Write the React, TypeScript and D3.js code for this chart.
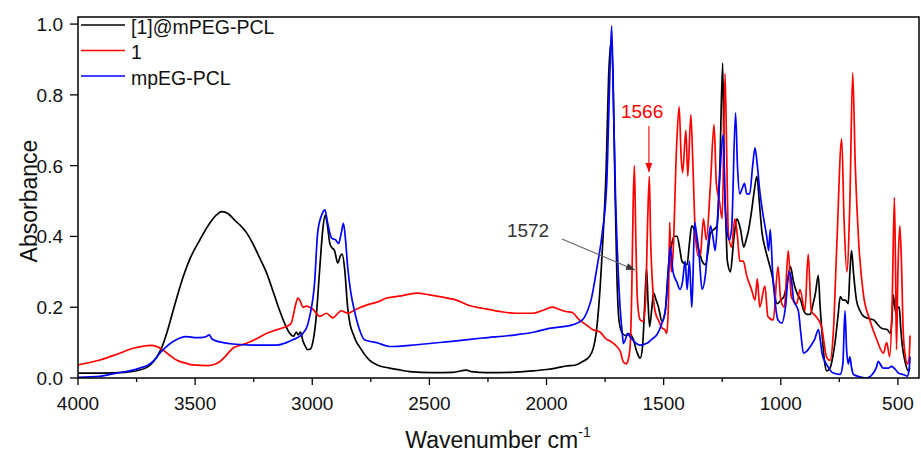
import React from 'react';
import * as d3 from 'd3';

const W = 921;
const H = 454;
const plot = { left: 78, right: 919, top: 17, bottom: 378 };

const xDomain: [number, number] = [4000, 410];
const yDomain: [number, number] = [0, 1.02];
const xTicks = [4000, 3500, 3000, 2500, 2000, 1500, 1000, 500];
const xMinorTicks = [3750, 3250, 2750, 2250, 1750, 1250, 750];
const yTicks = [0, 0.2, 0.4, 0.6, 0.8, 1.0];
const seriesNames = ['[1]@mPEG-PCL', '1', 'mpEG-PCL'];
const seriesColors = ['#000000', '#ff0000', '#0000ff'];

// [1]@mPEG-PCL : [wavenumber, absorbance]
const compositeSpectrum: [number, number][] = [
  [4000, 0.014], [3900, 0.014], [3800, 0.016], [3740, 0.022], [3706, 0.03], [3680, 0.045], [3663, 0.06],
  [3640, 0.09], [3621, 0.127], [3590, 0.2], [3551, 0.286], [3520, 0.34], [3480, 0.39], [3440, 0.435],
  [3410, 0.46], [3386, 0.47], [3360, 0.465], [3330, 0.445], [3310, 0.433], [3280, 0.41], [3254, 0.38],
  [3225, 0.34], [3195, 0.297], [3165, 0.24], [3139, 0.19], [3115, 0.15], [3097, 0.127], [3080, 0.118],
  [3068, 0.13], [3060, 0.122], [3050, 0.13], [3040, 0.105], [3030, 0.09], [3020, 0.08], [3008, 0.082],
  [2998, 0.1], [2985, 0.16], [2968, 0.31], [2955, 0.42], [2945, 0.46], [2935, 0.43], [2925, 0.38],
  [2918, 0.37], [2905, 0.36], [2891, 0.325], [2880, 0.345], [2872, 0.35], [2862, 0.31], [2849, 0.2],
  [2838, 0.15], [2827, 0.127], [2810, 0.1], [2798, 0.088], [2775, 0.065], [2755, 0.05], [2720, 0.036],
  [2670, 0.028], [2620, 0.022], [2585, 0.018], [2487, 0.015], [2400, 0.016], [2342, 0.022], [2320, 0.018],
  [2257, 0.015], [2150, 0.016], [2060, 0.02], [2000, 0.024], [1960, 0.028], [1917, 0.034], [1880, 0.036],
  [1850, 0.045], [1818, 0.06], [1800, 0.085], [1788, 0.127], [1775, 0.22], [1762, 0.36], [1745, 0.6],
  [1735, 0.85], [1724, 0.95], [1716, 0.85], [1708, 0.55], [1700, 0.3], [1690, 0.16], [1675, 0.125],
  [1660, 0.12], [1645, 0.125], [1630, 0.11], [1615, 0.075], [1600, 0.056], [1590, 0.09], [1580, 0.22],
  [1573, 0.31], [1567, 0.22], [1560, 0.145], [1550, 0.2], [1543, 0.24], [1532, 0.22], [1522, 0.2],
  [1507, 0.16], [1493, 0.19], [1479, 0.32], [1465, 0.38], [1455, 0.4], [1443, 0.4], [1430, 0.36],
  [1422, 0.33], [1400, 0.32], [1390, 0.38], [1380, 0.43], [1370, 0.42], [1358, 0.38], [1345, 0.35],
  [1336, 0.33], [1322, 0.32], [1310, 0.36], [1300, 0.41], [1285, 0.42], [1272, 0.43], [1260, 0.6],
  [1248, 0.89], [1242, 0.6], [1235, 0.45], [1228, 0.33], [1215, 0.3], [1201, 0.39], [1187, 0.45],
  [1180, 0.44], [1172, 0.42], [1158, 0.37], [1148, 0.39], [1137, 0.42], [1125, 0.47], [1115, 0.52],
  [1102, 0.57], [1092, 0.5], [1080, 0.41], [1068, 0.37], [1058, 0.344], [1037, 0.29], [1016, 0.21],
  [1000, 0.22], [987, 0.23], [972, 0.27], [959, 0.315], [945, 0.27], [931, 0.24], [915, 0.22],
  [902, 0.19], [888, 0.18], [874, 0.18], [862, 0.21], [852, 0.24], [840, 0.29], [832, 0.2], [826, 0.145],
  [814, 0.05], [804, 0.02], [790, 0.028], [778, 0.06], [767, 0.108], [755, 0.18], [746, 0.23],
  [735, 0.22], [724, 0.22], [712, 0.21], [705, 0.3], [698, 0.36], [690, 0.3], [677, 0.22], [662, 0.19],
  [646, 0.174], [625, 0.168], [603, 0.164], [585, 0.15], [568, 0.14], [546, 0.137], [532, 0.126],
  [526, 0.16], [520, 0.235], [513, 0.2], [506, 0.18], [500, 0.2], [494, 0.2], [488, 0.14], [481, 0.09],
  [468, 0.042], [456, 0.02], [449, 0.03],
];

// 1 (free complex)
const complexSpectrum: [number, number][] = [
  [4000, 0.037], [3906, 0.051], [3830, 0.068], [3764, 0.084], [3720, 0.09], [3693, 0.092], [3660, 0.088],
  [3637, 0.079], [3610, 0.065], [3580, 0.051], [3540, 0.042], [3509, 0.037], [3444, 0.035], [3420, 0.038],
  [3395, 0.046], [3370, 0.062], [3339, 0.084], [3310, 0.092], [3281, 0.098], [3240, 0.11], [3196, 0.126],
  [3153, 0.136], [3125, 0.142], [3111, 0.145], [3090, 0.155], [3080, 0.18], [3070, 0.21], [3061, 0.226],
  [3050, 0.215], [3040, 0.2], [3025, 0.203], [3011, 0.2], [2998, 0.195], [2977, 0.178], [2968, 0.174],
  [2940, 0.183], [2911, 0.17], [2895, 0.18], [2876, 0.19], [2849, 0.183], [2810, 0.195], [2769, 0.206],
  [2720, 0.215], [2683, 0.226], [2620, 0.232], [2555, 0.24], [2500, 0.235], [2457, 0.23], [2385, 0.22],
  [2330, 0.205], [2273, 0.197], [2201, 0.188], [2130, 0.183], [2059, 0.183], [2020, 0.19], [1975, 0.2],
  [1950, 0.195], [1917, 0.188], [1890, 0.185], [1860, 0.164], [1830, 0.15], [1804, 0.137], [1772, 0.13],
  [1745, 0.11], [1730, 0.105], [1700, 0.089], [1685, 0.075], [1672, 0.045], [1660, 0.04], [1652, 0.05],
  [1643, 0.09], [1636, 0.25], [1630, 0.5], [1625, 0.6], [1619, 0.4], [1612, 0.22], [1600, 0.164],
  [1587, 0.16], [1577, 0.22], [1568, 0.45], [1561, 0.57], [1556, 0.4], [1548, 0.27], [1537, 0.19],
  [1520, 0.16], [1505, 0.14], [1495, 0.137], [1487, 0.126], [1480, 0.2], [1474, 0.44], [1468, 0.3],
  [1460, 0.35], [1445, 0.65], [1434, 0.767], [1425, 0.62], [1419, 0.58], [1405, 0.7], [1397, 0.57],
  [1384, 0.744], [1375, 0.6], [1365, 0.41], [1352, 0.344], [1343, 0.35], [1330, 0.45], [1318, 0.39],
  [1300, 0.55], [1285, 0.716], [1275, 0.55], [1262, 0.5], [1250, 0.45], [1238, 0.86], [1230, 0.6],
  [1224, 0.41], [1210, 0.37], [1196, 0.45], [1185, 0.4], [1175, 0.33], [1160, 0.33], [1146, 0.29],
  [1125, 0.25], [1110, 0.22], [1100, 0.28], [1090, 0.2], [1068, 0.26], [1055, 0.174], [1032, 0.164],
  [1012, 0.315], [1000, 0.22], [985, 0.2], [968, 0.36], [955, 0.23], [932, 0.21], [918, 0.25],
  [897, 0.19], [883, 0.35], [870, 0.19], [850, 0.174], [826, 0.145], [805, 0.06], [790, 0.05],
  [776, 0.126], [760, 0.39], [740, 0.676], [730, 0.45], [718, 0.3], [705, 0.5], [693, 0.862],
  [682, 0.6], [668, 0.39], [648, 0.24], [620, 0.164], [590, 0.108], [562, 0.07], [548, 0.1],
  [535, 0.06], [525, 0.2], [515, 0.51], [510, 0.3], [506, 0.08], [500, 0.3], [492, 0.43], [486, 0.35],
  [477, 0.126], [468, 0.06], [460, 0.04], [453, 0.05], [448, 0.12],
];

// mpEG-PCL
const polymerSpectrum: [number, number][] = [
  [4000, 0.002], [3906, 0.005], [3836, 0.014], [3780, 0.02], [3736, 0.028], [3700, 0.037], [3675, 0.05],
  [3651, 0.07], [3620, 0.09], [3594, 0.103], [3565, 0.113], [3537, 0.117], [3494, 0.114], [3466, 0.115],
  [3450, 0.118], [3440, 0.122], [3430, 0.112], [3423, 0.108], [3380, 0.1], [3339, 0.096], [3253, 0.093],
  [3153, 0.093], [3110, 0.1], [3083, 0.108], [3040, 0.126], [3020, 0.15], [3011, 0.174], [2990, 0.27],
  [2977, 0.41], [2960, 0.46], [2946, 0.475], [2935, 0.44], [2917, 0.395], [2900, 0.39], [2888, 0.38],
  [2876, 0.41], [2867, 0.437], [2858, 0.39], [2849, 0.315], [2835, 0.24], [2820, 0.19], [2800, 0.14],
  [2777, 0.108], [2750, 0.103], [2726, 0.1], [2670, 0.089], [2555, 0.094], [2415, 0.103], [2273, 0.113],
  [2131, 0.122], [2050, 0.13], [1989, 0.14], [1890, 0.15], [1847, 0.164], [1825, 0.19], [1810, 0.22],
  [1784, 0.315], [1762, 0.41], [1743, 0.55], [1732, 0.8], [1722, 0.995], [1715, 0.8], [1705, 0.5],
  [1700, 0.4], [1694, 0.3], [1686, 0.2], [1677, 0.13], [1672, 0.098], [1660, 0.115], [1655, 0.126],
  [1645, 0.118], [1636, 0.11], [1615, 0.097], [1600, 0.093], [1580, 0.096], [1572, 0.098], [1550, 0.11],
  [1529, 0.122], [1510, 0.15], [1493, 0.19], [1480, 0.3], [1472, 0.37], [1460, 0.3], [1443, 0.27],
  [1430, 0.25], [1420, 0.27], [1408, 0.33], [1400, 0.25], [1390, 0.33], [1380, 0.2], [1375, 0.28],
  [1368, 0.44], [1358, 0.4], [1350, 0.36], [1336, 0.25], [1322, 0.29], [1310, 0.38], [1300, 0.43],
  [1290, 0.4], [1280, 0.36], [1270, 0.45], [1262, 0.55], [1245, 0.687], [1238, 0.5], [1232, 0.43],
  [1220, 0.39], [1210, 0.42], [1193, 0.749], [1185, 0.6], [1175, 0.52], [1165, 0.535], [1155, 0.55],
  [1145, 0.52], [1133, 0.52], [1120, 0.6], [1110, 0.65], [1100, 0.6], [1090, 0.53], [1080, 0.48],
  [1073, 0.45], [1060, 0.4], [1052, 0.36], [1045, 0.42], [1035, 0.3], [1025, 0.22], [1012, 0.164],
  [995, 0.155], [980, 0.2], [965, 0.3], [955, 0.28], [945, 0.22], [925, 0.19], [915, 0.13], [903, 0.07],
  [890, 0.075], [874, 0.089], [855, 0.11], [839, 0.137], [830, 0.1], [824, 0.07], [810, 0.045],
  [800, 0.033], [776, 0.014], [747, 0.01], [735, 0.04], [726, 0.19], [719, 0.08], [712, 0.04],
  [705, 0.06], [698, 0.03], [690, 0.01], [660, 0.003], [634, 0.0], [605, 0.014], [592, 0.03],
  [584, 0.047], [572, 0.035], [563, 0.028], [540, 0.028], [527, 0.033], [512, 0.025], [498, 0.014],
  [470, 0.008], [460, 0.005], [453, 0.02], [448, 0.06],
];

const seriesData = [compositeSpectrum, complexSpectrum, polymerSpectrum];

// annotations in data units: label position and arrow from/to
const annotationLabels = ['1566', '1572'];
const annotationText: [number, number][] = [[1592, 0.735], [2079, 0.398]];
const annotationFrom: [number, number][] = [[1563, 0.712], [1934, 0.393]];
const annotationTo: [number, number][] = [[1563, 0.582], [1622, 0.305]];
const annotationColors = ['#ff0000', '#333333'];
const annotationLineColors = ['#ff0000', '#666666'];

const FONT = '"Liberation Sans", Arial, Helvetica, sans-serif';

export default function App() {
  const x = d3.scaleLinear().domain(xDomain).range([plot.left, plot.right]);
  const y = d3.scaleLinear().domain(yDomain).range([plot.bottom, plot.top]);
  const line = d3
    .line<[number, number]>()
    .x((d) => x(d[0]))
    .y((d) => y(d[1]))
    .curve(d3.curveMonotoneX);

  const arrowHead = (from: [number, number], to: [number, number], len: number, half: number) => {
    const x1 = x(from[0]), y1 = y(from[1]), x2 = x(to[0]), y2 = y(to[1]);
    const a = Math.atan2(y2 - y1, x2 - x1);
    const bx = x2 - len * Math.cos(a), by = y2 - len * Math.sin(a);
    const px = -Math.sin(a) * half, py = Math.cos(a) * half;
    return `M${x2},${y2}L${bx + px},${by + py}L${bx - px},${by - py}Z`;
  };

  return (
    <svg width={W} height={H} style={{ position: 'absolute', left: 0, top: 0, background: '#fff' }} fontFamily={FONT}>
      <rect x={0} y={0} width={W} height={H} fill="#fff" />
      <defs>
        <clipPath id="plotclip">
          <rect x={plot.left} y={plot.top} width={plot.right - plot.left} height={plot.bottom - plot.top} />
        </clipPath>
      </defs>

      {/* spectra */}
      <g clipPath="url(#plotclip)">
        {seriesData.map((d, i) => (
          <path key={i} d={line(d) || ''} fill="none" stroke={seriesColors[i]} strokeWidth={1.7} strokeLinejoin="round" />
        ))}
      </g>

      {/* frame */}
      <rect x={plot.left} y={plot.top} width={plot.right - plot.left} height={plot.bottom - plot.top} fill="none" stroke="#000" strokeWidth={1.5} />

      {/* x ticks */}
      {xTicks.map((t) => (
        <g key={t}>
          <line x1={x(t)} x2={x(t)} y1={plot.bottom} y2={plot.bottom + 7} stroke="#000" strokeWidth={1.3} />
          <text x={x(t)} y={410} textAnchor="middle" fontSize={19} fill="#111">{t}</text>
        </g>
      ))}
      {xMinorTicks.map((t) => (
        <line key={t} x1={x(t)} x2={x(t)} y1={plot.bottom} y2={plot.bottom + 4} stroke="#000" strokeWidth={1.3} />
      ))}

      {/* y ticks */}
      {yTicks.map((t) => (
        <g key={t}>
          <line x1={plot.left - 8} x2={plot.left} y1={y(t)} y2={y(t)} stroke="#000" strokeWidth={1.3} />
          <text x={63} y={y(t) + 7} textAnchor="end" fontSize={19} fill="#111">{t.toFixed(1)}</text>
        </g>
      ))}

      {/* axis titles */}
      <text x={498} y={448} textAnchor="middle" fontSize={23} fill="#111">
        Wavenumber cm<tspan fontSize={14} dy={-11}>-1</tspan>
      </text>
      <text transform={`translate(37, ${y(0.5)}) rotate(-90)`} textAnchor="middle" fontSize={23} fill="#111">
        Absorbance
      </text>

      {/* legend */}
      {seriesNames.map((name, i) => {
        const ly = 25 + i * 25.5;
        return (
          <g key={name}>
            <line x1={81} x2={125} y1={ly} y2={ly} stroke={seriesColors[i]} strokeWidth={1.7} />
            <text x={131} y={ly + 8.5} fontSize={19.5} fill="#111">{name}</text>
          </g>
        );
      })}

      {/* annotations */}
      {annotationLabels.map((lab, i) => (
        <g key={lab}>
          <text x={x(annotationText[i][0])} y={y(annotationText[i][1])} textAnchor="middle" fontSize={19} fill={annotationColors[i]}>
            {lab}
          </text>
          <line
            x1={x(annotationFrom[i][0])}
            y1={y(annotationFrom[i][1])}
            x2={x(annotationTo[i][0])}
            y2={y(annotationTo[i][1])}
            stroke={annotationLineColors[i]}
            strokeWidth={1.1}
          />
          <path d={arrowHead(annotationFrom[i], annotationTo[i], 9, 3.5)} fill={annotationColors[i]} />
        </g>
      ))}
    </svg>
  );
}
